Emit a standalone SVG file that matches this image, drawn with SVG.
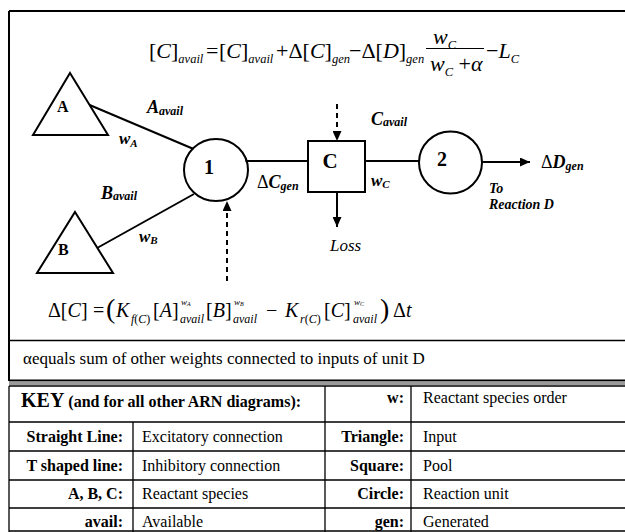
<svg xmlns="http://www.w3.org/2000/svg" width="625" height="532" viewBox="0 0 625 532">
<defs>
<style>
.ln{stroke:#000;stroke-width:2;fill:none}
.thin{stroke:#000;stroke-width:1.3;fill:none}
.dash{stroke-dasharray:5 4}
.s{font-family:"Liberation Serif","Times New Roman",serif;fill:#000}
.b{font-weight:bold}
.i{font-style:italic}
.bi{font-weight:bold;font-style:italic}
.end{text-anchor:end}
.mid{text-anchor:middle}
</style>
<marker id="ah" viewBox="0 0 10 9" refX="10" refY="4.5" markerWidth="10" markerHeight="9" markerUnits="userSpaceOnUse" orient="auto">
<path d="M0,0 L10,4.5 L0,9 z" fill="#000"/>
</marker>
</defs>
<rect x="0" y="0" width="625" height="532" fill="#fff"/>

<g id="frame">
<path class="ln" d="M9,11 H625 M9,11 V381"/>
<path class="thin" d="M9,340.5 H625"/>
<path d="M9,380.5 H625" stroke="#000" stroke-width="2"/>
<rect x="9" y="381.5" width="616" height="3.5" fill="#9a9a9a"/>
</g>

<g id="formula-top" class="s" font-size="22">
<text x="149" y="58">[<tspan class="i">C</tspan>]<tspan class="i" font-size="12.5" dy="5">avail</tspan></text>
<text x="206" y="58">=</text>
<text x="219" y="58">[<tspan class="i">C</tspan>]<tspan class="i" font-size="12.5" dy="5">avail</tspan></text>
<text x="276" y="58">+Δ[<tspan class="i">C</tspan>]<tspan class="i" font-size="12.5" dy="5">gen</tspan></text>
<text x="349" y="58">−Δ[<tspan class="i">D</tspan>]<tspan class="i" font-size="12.5" dy="5">gen</tspan></text>
<text x="433" y="44"><tspan class="i">w</tspan><tspan class="i" font-size="12.5" dy="5">C</tspan></text>
<path d="M426,48.5 H484" stroke="#000" stroke-width="1"/>
<text x="430" y="71"><tspan class="i">w</tspan><tspan class="i" font-size="12.5" dy="5">C</tspan><tspan dy="-5"> +</tspan><tspan class="i">α</tspan></text>
<text x="486" y="58">−<tspan class="i">L</tspan><tspan class="i" font-size="12.5" dy="5">C</tspan></text>
</g>

<g id="connectors">
<path class="ln" d="M89.6,105 L193.6,149"/>
<path class="ln" d="M98,247.5 L194,194"/>
<path class="ln" d="M245.5,161 H308"/>
<path class="ln" d="M365,161 H419.5"/>
<path class="ln" d="M481.5,162 H530" marker-end="url(#ah)"/>
<path class="ln" d="M337,192 V227" marker-end="url(#ah)"/>
<path class="ln dash" stroke-width="1.5" d="M227,281 V201" marker-end="url(#ah)"/>
<path class="ln dash" stroke-width="1.5" d="M337,104 V141" marker-end="url(#ah)"/>
</g>

<g id="node-A">
<path class="ln" d="M70,73 L108,135 L33,135 Z"/>
<text class="s b" x="57" y="112" font-size="16">A</text>
</g>
<g id="node-B">
<path class="ln" d="M75,212 L113,273 L37,273 Z"/>
<text class="s b" x="58" y="255" font-size="16">B</text>
</g>
<g id="node-1">
<ellipse class="ln" cx="216" cy="170" rx="32" ry="31" fill="#fff"/>
<text class="s b mid" x="209" y="174" font-size="20">1</text>
</g>
<g id="node-C">
<rect class="ln" x="308" y="141" width="57" height="51" fill="#fff"/>
<text class="s b mid" x="330" y="168" font-size="21">C</text>
</g>
<g id="node-2">
<ellipse class="ln" cx="450.5" cy="162.5" rx="31.5" ry="31" fill="#fff"/>
<text class="s b mid" x="442" y="166" font-size="20">2</text>
</g>

<g id="labels" class="s bi">
<text x="147" y="113" font-size="18">A<tspan font-size="12" dy="2">avail</tspan></text>
<text x="119" y="144" font-size="17">w<tspan font-size="11" dy="3">A</tspan></text>
<text x="101" y="199" font-size="18">B<tspan font-size="12" dy="1">avail</tspan></text>
<text x="139" y="242" font-size="17">w<tspan font-size="11" dy="2">B</tspan></text>
<text x="257" y="188" font-size="18"><tspan font-weight="normal" font-style="normal">Δ</tspan>C<tspan font-size="12" dy="2">gen</tspan></text>
<text x="371" y="125" font-size="18">C<tspan font-size="12" dy="1">avail</tspan></text>
<text x="371" y="186" font-size="17">w<tspan font-size="11" dy="2">C</tspan></text>
<text x="541" y="168" font-size="18"><tspan font-weight="normal" font-style="normal">Δ</tspan>D<tspan font-size="12" dy="2">gen</tspan></text>
<text x="489" y="193" font-size="14">To</text>
<text x="489" y="209" font-size="14">Reaction D</text>
<text class="s i" x="330" y="251" font-size="17" font-weight="normal">Loss</text>
</g>

<g id="formula-bottom" class="s" font-size="20">
<text x="48" y="317">Δ[<tspan class="i">C</tspan>]</text>
<text x="93" y="317">=</text>
<text x="106" y="318" font-size="28">(</text>
<text x="116" y="317" class="i">K</text>
<text x="131" y="323" class="i" font-size="12">f<tspan font-style="normal">(</tspan>C<tspan font-style="normal">)</tspan></text>
<text x="153" y="317">[<tspan class="i">A</tspan>]</text>
<text x="181" y="305" class="i" font-size="9">w<tspan font-size="6" dy="1">A</tspan></text>
<text x="180" y="323" class="i" font-size="12">avail</text>
<text x="206" y="317">[<tspan class="i">B</tspan>]</text>
<text x="234" y="305" class="i" font-size="9">w<tspan font-size="6" dy="1">B</tspan></text>
<text x="233" y="323" class="i" font-size="12">avail</text>
<text x="266" y="317">−</text>
<text x="285" y="317" class="i">K</text>
<text x="300" y="323" class="i" font-size="12">r<tspan font-style="normal">(</tspan>C<tspan font-style="normal">)</tspan></text>
<text x="324" y="317">[<tspan class="i">C</tspan>]</text>
<text x="354" y="305" class="i" font-size="9">w<tspan font-size="6" dy="1">C</tspan></text>
<text x="353" y="323" class="i" font-size="12">avail</text>
<text x="380" y="318" font-size="28">)</text>
<text x="393" y="317">Δ<tspan class="i">t</tspan></text>
</g>

<text id="alpha-note" class="s" x="23" y="364" font-size="17">αequals sum of other weights connected to inputs of unit D</text>

<g id="key-table">
<path class="thin" d="M9,386 H625 M9,386 V532 M9,422 H625 M9,451 H625 M9,480 H625 M9,508 H625 M9,531 H625 M133,422 V532 M325,386 V532 M411,386 V532"/>
<text class="s b" x="21" y="407" font-size="20">KEY<tspan font-size="16"> (and for all other ARN diagrams):</tspan></text>
<g class="s b end" font-size="16">
<text x="404" y="403">w:</text>
<text x="123" y="442">Straight Line:</text>
<text x="404" y="442">Triangle:</text>
<text x="123" y="471">T shaped line:</text>
<text x="404" y="471">Square:</text>
<text x="123" y="499">A, B, C:</text>
<text x="404" y="499">Circle:</text>
<text x="123" y="527">avail:</text>
<text x="404" y="527">gen:</text>
</g>
<g class="s" font-size="16">
<text x="423" y="403">Reactant species order</text>
<text x="142" y="442">Excitatory connection</text>
<text x="423" y="442">Input</text>
<text x="142" y="471">Inhibitory connection</text>
<text x="423" y="471">Pool</text>
<text x="142" y="499">Reactant species</text>
<text x="423" y="499">Reaction unit</text>
<text x="142" y="527">Available</text>
<text x="423" y="527">Generated</text>
</g>
</g>
</svg>
